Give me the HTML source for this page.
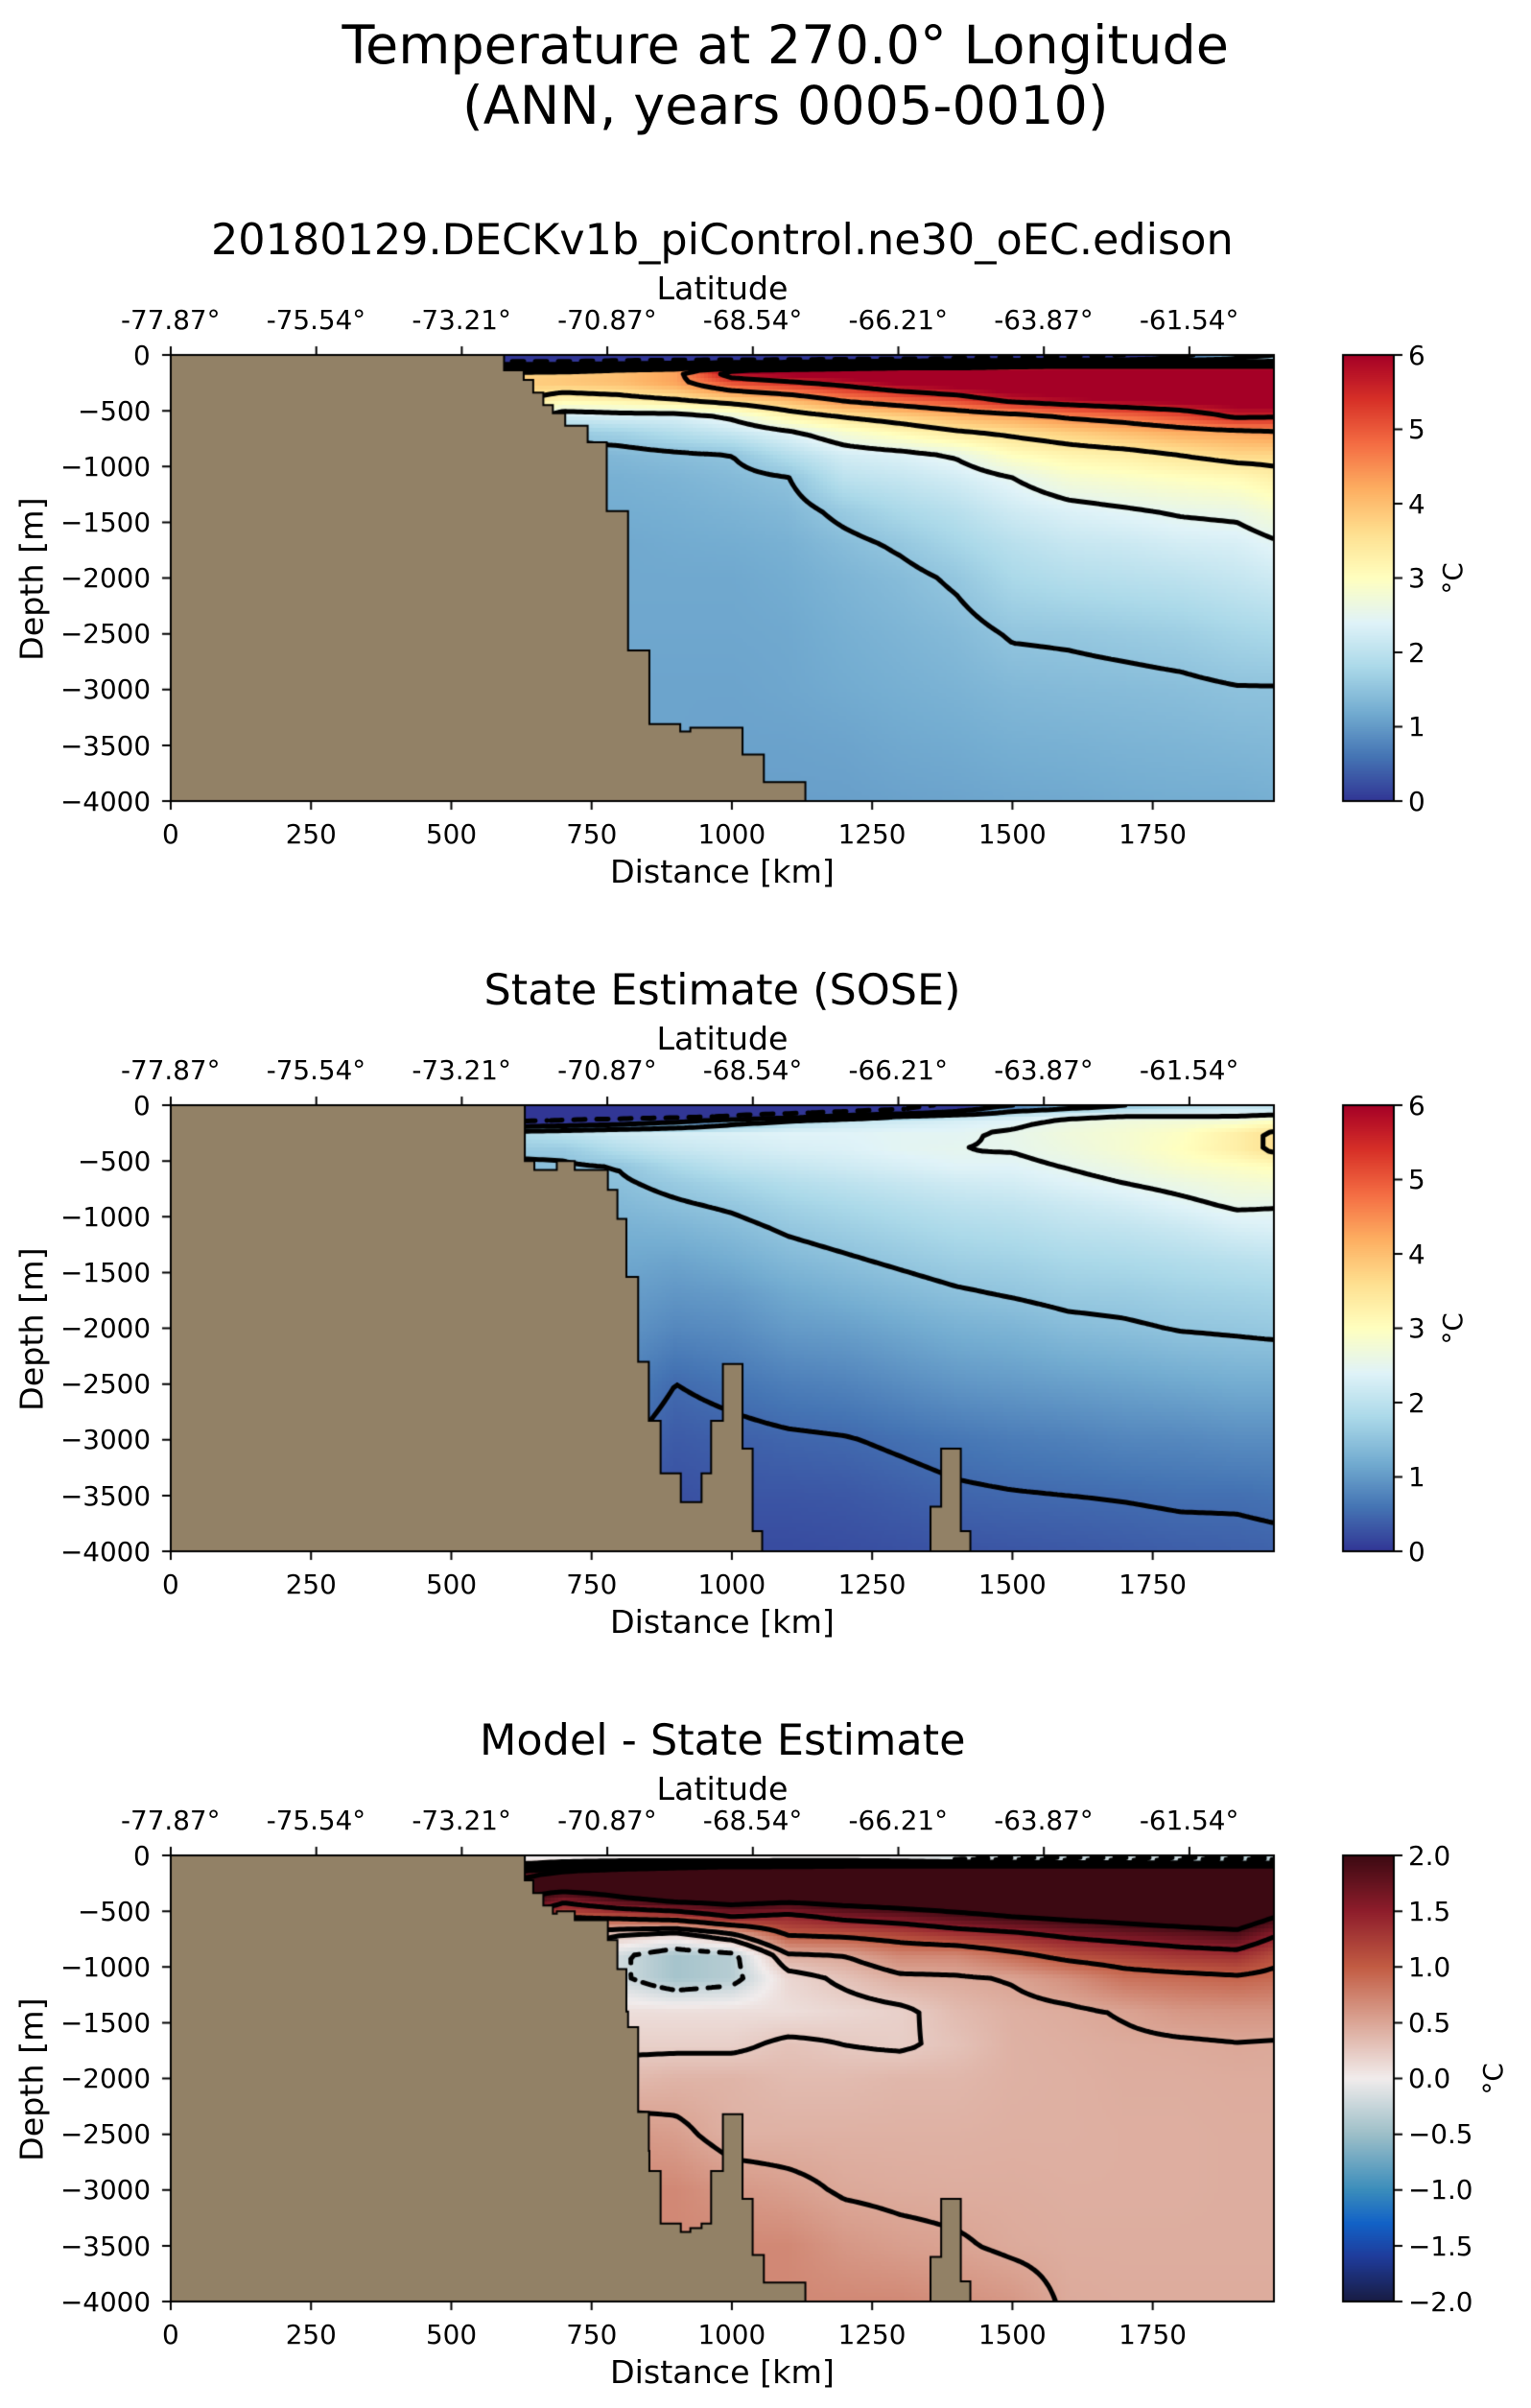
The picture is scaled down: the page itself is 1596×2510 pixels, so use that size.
<!DOCTYPE html>
<html><head><meta charset="utf-8"><style>
html,body{margin:0;padding:0;background:#fff}
body{width:1596px;height:2510px;position:relative;overflow:hidden;font-family:"DejaVu Sans","Liberation Sans",sans-serif;color:#000}
.t{position:absolute;white-space:nowrap;line-height:1}
canvas{position:absolute;left:0;top:0}
</style></head><body>
<canvas id="cv" width="1596" height="2510"></canvas>
<div id="txt"></div>
<script>
// ---------- DATA ----------
const distKm = [600,700,800,900,1000,1100,1200,1300,1400,1500,1600,1700,1800,1900,1970];
const depthM = [0,30,60,100,150,250,400,550,700,900,1100,1400,1700,2000,2500,3000,3500,4000];
// model temperature profiles (one per distance column, values at depthM)
const modelTemp = [
[-1,-1,-0.8,1.5,3.7,3.8,3.7,3.0,2.0,1.4,1.25,1.2,1.15,1.15,1.1,1.1,1.1,1.1],
[-1,-1,-0.8,1.5,3.8,3.9,3.2,2.2,1.6,1.3,1.25,1.2,1.15,1.15,1.1,1.1,1.1,1.1],
[-1,-0.9,-0.6,2.0,4.0,4.0,3.3,2.3,1.7,1.35,1.25,1.2,1.15,1.15,1.13,1.1,1.1,1.1],
[-1,-0.9,-0.5,2.5,4.3,4.3,3.5,2.3,1.9,1.43,1.3,1.23,1.18,1.15,1.13,1.1,1.1,1.1],
[-1,-0.9,-0.3,3.5,6.0,5.1,3.8,2.6,2.1,1.5,1.38,1.28,1.2,1.15,1.13,1.1,1.08,1.05],
[-1,-0.9,-0.3,4.0,6.3,5.4,4.1,3.2,2.4,1.9,1.49,1.35,1.25,1.2,1.15,1.13,1.08,1.05],
[-1,-0.8,0,4.5,6.5,5.7,4.6,3.55,2.8,2.25,2.0,1.6,1.4,1.3,1.23,1.18,1.1,1.05],
[-1,-0.7,0.3,5,6.5,6.1,4.9,3.8,3.1,2.35,2.1,1.8,1.55,1.4,1.3,1.23,1.15,1.08],
[-1,-0.6,0.5,5,6.5,6.3,5.2,4.1,3.4,2.55,2.25,1.95,1.75,1.55,1.38,1.28,1.18,1.1],
[-1,-0.5,0.8,5.3,6.5,6.5,5.7,4.3,3.6,3.0,2.5,2.2,1.95,1.8,1.53,1.35,1.23,1.13],
[-0.8,-0.4,1,5.5,6.5,6.5,5.9,4.6,3.8,3.2,2.8,2.35,2.1,1.9,1.55,1.38,1.25,1.15],
[-0.5,-0.2,1.2,5.5,6.5,6.5,6.1,4.8,4.0,3.3,2.9,2.45,2.15,1.95,1.6,1.4,1.28,1.18],
[0.3,0.8,1.5,5.5,6.5,6.5,6.2,5.1,4.2,3.5,3.0,2.55,2.25,2.0,1.65,1.43,1.3,1.2],
[1.2,1.5,2,5.5,6.5,6.5,6.3,5.6,4.3,3.7,3.1,2.6,2.3,2.1,1.75,1.48,1.33,1.2],
[1.5,1.8,2.2,5.5,6.5,6.5,6.4,5.55,4.4,3.7,3.3,2.8,2.45,2.2,1.8,1.48,1.35,1.23]];
// state estimate (SOSE) temperature profiles
const soseTemp = [
[-1,-1,-1,-1,-0.5,1.8,1.6,1.4,1.3,1.2,1.1,1.0,0.9,0.8,0.6,0.5,0.4,0.3],
[-1,-1,-1,-0.9,-0.3,2.0,1.6,1.45,1.4,1.3,1.2,1.1,1.0,0.9,0.7,0.5,0.4,0.3],
[-1,-1,-1,-0.9,0,2.2,1.9,1.52,1.45,1.35,1.25,1.15,1.05,0.95,0.75,0.55,0.4,0.3],
[-1,-1,-1,-0.8,0.5,2.3,2.1,1.8,1.6,1.45,1.3,1.1,0.95,0.8,0.5,0.35,0.25,0.2],
[-1,-1,-0.9,-0.5,1.2,2.35,2.2,2.0,1.75,1.55,1.4,1.2,1.0,0.85,0.6,0.4,0.3,0.2],
[-1,-1,-0.8,0,1.8,2.4,2.3,2.1,1.9,1.7,1.55,1.35,1.15,1.0,0.7,0.45,0.3,0.2],
[-1,-0.9,-0.6,0.8,2.1,2.4,2.35,2.2,2.0,1.8,1.65,1.45,1.25,1.05,0.75,0.48,0.32,0.22],
[-0.8,-0.6,-0.2,1.5,2.2,2.45,2.45,2.3,2.1,1.9,1.75,1.55,1.35,1.15,0.85,0.55,0.38,0.25],
[-0.3,0,0.5,2,2.3,2.45,2.5,2.4,2.2,2.0,1.85,1.65,1.45,1.25,0.95,0.62,0.45,0.28],
[0.5,1.0,1.6,2.2,2.4,2.55,2.52,2.4,2.25,2.05,1.9,1.7,1.52,1.3,1.0,0.68,0.48,0.3],
[1.0,1.5,2.0,2.4,2.6,2.7,2.65,2.52,2.38,2.15,2.0,1.78,1.6,1.4,1.05,0.72,0.5,0.32],
[1.5,1.8,2.1,2.5,2.7,2.8,2.8,2.65,2.5,2.25,2.05,1.82,1.62,1.45,1.1,0.78,0.52,0.35],
[1.8,2.0,2.2,2.5,2.75,2.95,3.0,2.85,2.62,2.4,2.15,1.88,1.68,1.52,1.15,0.8,0.55,0.38],
[2.0,2.2,2.3,2.5,2.8,3.3,3.3,2.95,2.75,2.55,2.3,1.95,1.72,1.55,1.2,0.85,0.55,0.4],
[2.0,2.1,2.3,2.6,3.0,3.6,3.6,3.05,2.8,2.52,2.35,2.0,1.75,1.58,1.2,0.85,0.58,0.42]];
// model minus state estimate profiles
const diffTemp = [
[0,0,0,0.5,1.5,2.2,2.2,1.6,1.2,0.5,0.2,0.2,0.3,0.4,0.6,0.7,0.7,0.7],
[0,0,0.2,1,2.2,2.4,1.6,1.0,0.5,0.3,0.2,0.2,0.3,0.4,0.6,0.7,0.7,0.7],
[0,0,0.3,1.5,2.5,2.4,1.9,1.1,0.3,-0.2,-0.2,0.1,0.2,0.35,0.6,0.7,0.7,0.7],
[0,0,0.3,1.8,2.6,2.5,2.1,1.2,0.2,-0.45,-0.45,0.1,0.2,0.4,0.55,0.7,0.7,0.7],
[0,0,0.2,2,2.6,2.5,2.2,1.5,0.5,-0.35,-0.35,0.1,0.2,0.4,0.42,0.6,0.7,0.7],
[0,0,0.3,2,2.7,2.6,2.1,1.4,1.05,0.45,0.15,0.1,0.3,0.35,0.42,0.55,0.7,0.7],
[0,0,0.3,2.2,2.8,2.7,2.2,1.6,1.1,0.5,0.3,0.15,0.25,0.35,0.42,0.48,0.6,0.7],
[0,-0.1,0.2,2.3,2.8,2.7,2.3,1.7,1.2,0.7,0.45,0.2,0.22,0.38,0.42,0.46,0.55,0.7],
[0,-0.3,0,2.3,2.8,2.7,2.4,1.85,1.35,0.7,0.47,0.35,0.3,0.38,0.42,0.45,0.52,0.65],
[0,-0.4,-0.1,2.3,2.8,2.7,2.5,2.0,1.45,0.9,0.52,0.43,0.42,0.42,0.43,0.45,0.47,0.6],
[0,-0.5,-0.2,2.3,2.8,2.7,2.5,2.1,1.6,1.1,0.65,0.46,0.44,0.43,0.43,0.44,0.45,0.47],
[0.1,-0.5,-0.2,2.3,2.8,2.7,2.55,2.2,1.7,1.2,0.85,0.52,0.46,0.45,0.44,0.44,0.45,0.46],
[0.1,-0.5,-0.3,2.3,2.8,2.75,2.6,2.3,1.8,1.3,0.9,0.6,0.47,0.45,0.44,0.44,0.45,0.46],
[0,-0.6,-0.3,2.3,2.8,2.8,2.6,2.35,1.9,1.35,0.95,0.62,0.49,0.46,0.45,0.45,0.45,0.46],
[0,-0.6,-0.3,2.3,2.8,2.8,2.4,2.0,1.55,1.1,0.9,0.62,0.48,0.46,0.45,0.45,0.45,0.46]];
// bathymetry (step edges in km, floor depth in m per interval)
const modelEdges = [594,629,646,664,681,703,743,777,815,853,908,926,1019,1057,1131];
const modelFloor = [0,138,224,337,449,523,635,783,1400,2649,3309,3376,3343,3582,3830,4000];
const soseEdges = [631,648,688,720,779,796,812,833,852,873,909,946,963,984,1019,1037,1054,1354,1373,1408,1425];
const soseFloor = [0,500,580,500,580,760,1020,1540,2300,2830,3300,3560,3300,2830,2320,3080,3820,4000,3600,3080,3820,4000];
const tempLevels = [-0.5,0.5,1.5,2.5,3.5,4.5,5.5];
const diffLevels = [-2,-1.5,-1,-0.5,-0.25,0.25,0.5,1,1.5,2];
const xTicks = [0,250,500,750,1000,1250,1500,1750];
const yTicks = [0,-500,-1000,-1500,-2000,-2500,-3000,-3500,-4000];
const latTicks = ["-77.87°","-75.54°","-73.21°","-70.87°","-68.54°","-66.21°","-63.87°","-61.54°"];
const tempCbTicks = [0,1,2,3,4,5,6];
const diffCbTicks = [-2,-1.5,-1,-0.5,0,0.5,1,1.5,2];

// ---------- LAYOUT ----------
const L=178,R=1328,H=465,XMAX=1966,CBL=1400,CBR=1453;
const tops=[370,1152,1934];
const cv=document.getElementById('cv'),ctx=cv.getContext('2d');
const txt=document.getElementById('txt');
function px(km){return L+km/XMAX*(R-L);}
function py(T,d){return T+d/4000*H;}
function addText(s,x,y,fs,align,name,rot){
  const d=document.createElement('div');d.className='t';d.textContent=s;
  d.style.fontSize=fs+'px';
  
  
  txt.appendChild(d);
  const w=d.offsetWidth;
  let left=align==='c'?x-w/2:(align==='r'?x-w:x);
  d.style.left=left+'px';d.style.top=(y-0.48*fs)+'px';
  if(rot){d.style.transform='rotate('+rot+'deg)';}
  return d;
}
// ---------- colour maps ----------
const rdyl=['#313695','#4575b4','#74add1','#abd9e9','#e0f3f8','#ffffbf','#fee090','#fdae61','#f46d43','#d73027','#a50026'];
const bal=[[-2,'#181c43'],[-1.6,'#1f3c9b'],[-1.3,'#1262c7'],[-1,'#3b8dbb'],[-0.5,'#9dbfc8'],[0,'#f1ecec'],[0.5,'#dba696'],[1,'#c25c43'],[1.5,'#8e1d2b'],[2,'#3c0912']];
function hx(c){return [parseInt(c.substr(1,2),16),parseInt(c.substr(3,2),16),parseInt(c.substr(5,2),16)];}
function mix(a,b,t){a=hx(a);b=hx(b);return 'rgb('+Math.round(a[0]+(b[0]-a[0])*t)+','+Math.round(a[1]+(b[1]-a[1])*t)+','+Math.round(a[2]+(b[2]-a[2])*t)+')';}
function cTemp(v){let t=Math.max(0,Math.min(1,v/6))*10;let i=Math.min(9,Math.floor(t));return mix(rdyl[i],rdyl[i+1],t-i);}
function cDiff(v){v=Math.max(-2,Math.min(2,v));for(let i=0;i<bal.length-1;i++){if(v<=bal[i+1][0]){return mix(bal[i][1],bal[i+1][1],(v-bal[i][0])/(bal[i+1][0]-bal[i][0]));}}return bal[bal.length-1][1];}
// ---------- field sampling ----------
function findIdx(arr,v){if(v<=arr[0])return [0,0];if(v>=arr[arr.length-1])return [arr.length-2,1];for(let i=0;i<arr.length-1;i++){if(v<=arr[i+1])return [i,(v-arr[i])/(arr[i+1]-arr[i])];}}
function sample(grid,km,d){const [i,tx]=findIdx(distKm,km);const [j,ty]=findIdx(depthM,d);
  const a=grid[i][j],b=grid[i+1][j],c=grid[i][j+1],e=grid[i+1][j+1];
  return (a*(1-tx)+b*tx)*(1-ty)+(c*(1-tx)+e*tx)*ty;}
function floorAt(edges,floors,km){let k=0;while(k<edges.length&&km>=edges[k])k++;return floors[k];}
const fields=[
 {f:(km,d)=>sample(modelTemp,km,d),col:cTemp,lev:tempLevels,land:km=>floorAt(modelEdges,modelFloor,km),edges:modelEdges},
 {f:(km,d)=>sample(soseTemp,km,d),col:cTemp,lev:tempLevels,land:km=>floorAt(soseEdges,soseFloor,km),edges:soseEdges},
 {f:(km,d)=>sample(diffTemp,km,d),col:cDiff,lev:diffLevels,
  land:km=>Math.min(floorAt(modelEdges,modelFloor,km),floorAt(soseEdges,soseFloor,km)),edges:modelEdges.concat(soseEdges).sort((a,b)=>a-b)}];
// ---------- drawing ----------
const S=4;
fields.forEach((F,p)=>{
  const T=tops[p];
  for(let x=L;x<R;x+=S){for(let y=T;y<T+H;y+=S){
    const km=(x+S/2-L)/(R-L)*XMAX, d=(y+S/2-T)/H*4000;
    ctx.fillStyle=F.col(F.f(km,d));ctx.fillRect(x,y,Math.min(S,R-x),Math.min(S,T+H-y));}}
  const nx=Math.ceil((R-L)/S)+1, ny=Math.ceil(H/S)+1, g=[];
  for(let j=0;j<ny;j++){g.push([]);for(let i=0;i<nx;i++){const x=Math.min(L+i*S,R),y=Math.min(T+j*S,T+H);g[j].push(F.f((x-L)/(R-L)*XMAX,(y-T)/H*4000));}}
  ctx.save();ctx.beginPath();ctx.rect(L,T,R-L,H);ctx.clip();
  ctx.strokeStyle='#000';ctx.lineWidth=5;ctx.lineCap='round';
  F.lev.forEach(lv=>{
    ctx.beginPath();
    for(let j=0;j<ny-1;j++)for(let i=0;i<nx-1;i++){
      const v=[g[j][i],g[j][i+1],g[j+1][i+1],g[j+1][i]];
      const X=[L+i*S,L+i*S+S,L+i*S+S,L+i*S],Y=[T+j*S,T+j*S,T+j*S+S,T+j*S+S];
      const pts=[];
      for(let e=0;e<4;e++){const a=v[e],b=v[(e+1)%4];
        if((a<lv)!==(b<lv)){const t=(lv-a)/(b-a);pts.push([X[e]+(X[(e+1)%4]-X[e])*t,Y[e]+(Y[(e+1)%4]-Y[e])*t]);}}
      if(lv<0&&Math.floor((i+j)/3)%2===1)continue;
      for(let k=0;k+1<pts.length;k+=2){ctx.moveTo(pts[k][0],pts[k][1]);ctx.lineTo(pts[k+1][0],pts[k+1][1]);}
    }
    ctx.stroke();
  });
  ctx.restore();
  const ed=F.edges;
  ctx.beginPath();ctx.moveTo(px(0),py(T,4000));ctx.lineTo(px(0),py(T,F.land(0)));
  ed.forEach(e=>{const before=F.land(e-0.01),after=F.land(e+0.01);ctx.lineTo(px(e),py(T,before));ctx.lineTo(px(e),py(T,after));});
  ctx.lineTo(R,py(T,F.land(XMAX)));ctx.lineTo(R,py(T,4000));ctx.closePath();
  ctx.fillStyle='#928166';ctx.fill();ctx.lineWidth=2;ctx.strokeStyle='#000';ctx.stroke();
  ctx.lineWidth=2;ctx.strokeRect(L,T,R-L,H);
  ctx.beginPath();
  xTicks.forEach(k=>{ctx.moveTo(px(k),T+H);ctx.lineTo(px(k),T+H+9);});
  yTicks.forEach(d=>{ctx.moveTo(L,py(T,-d));ctx.lineTo(L-9,py(T,-d));});
  latTicks.forEach((s,i)=>{const x=L+151.7*i;ctx.moveTo(x,T);ctx.lineTo(x,T-9);});
  ctx.stroke();
  const ticksCb=p<2?tempCbTicks:diffCbTicks, lo=p<2?0:-2, hi=p<2?6:2;
  for(let y=0;y<H;y++){const v=hi-(y+0.5)/H*(hi-lo);ctx.fillStyle=F.col(v);ctx.fillRect(CBL,T+y,CBR-CBL,1);}
  ctx.lineWidth=2;ctx.strokeRect(CBL,T,CBR-CBL,H);
  ctx.beginPath();ticksCb.forEach(v=>{const y=T+(hi-v)/(hi-lo)*H;ctx.moveTo(CBR,y);ctx.lineTo(CBR+9,y);});ctx.stroke();
  xTicks.forEach(k=>addText(String(k),px(k),T+H+34,27.8,'c','x-tick-label'));
  yTicks.forEach(d=>addText(d===0?'0':'\u2212'+(-d),157,py(T,-d),27.8,'r','y-tick-label'));
  latTicks.forEach((s,i)=>addText(s,L+151.7*i,T-37,27.8,'c','latitude-tick-label'));
  ticksCb.forEach(v=>{let s=p<2?String(v):v.toFixed(1);s=s.replace('-','\u2212');addText(s,CBR+15,T+(hi-v)/(hi-lo)*H,27.8,'l','colorbar-tick-label');});
  addText('Distance [km]',753,T+H+73,33.3,'c','x-axis-title');
  addText('Latitude',753,T-70,33.3,'c','top-axis-title');
  addText('Depth [m]',33,T+H/2,33.3,'c','y-axis-title',-90);
  addText('°C',p<2?1514:1556,T+H/2,27.8,'c','colorbar-label',-90);
  addText(['20180129.DECKv1b_piControl.ne30_oEC.edison','State Estimate (SOSE)','Model - State Estimate'][p],753,T-120,44.5,'c','panel-title');
});
addText('Temperature at 270.0° Longitude',819,47,55.6,'c','figure-title');
addText('(ANN, years 0005-0010)',819,110,55.6,'c','figure-subtitle');
</script>
</body></html>
